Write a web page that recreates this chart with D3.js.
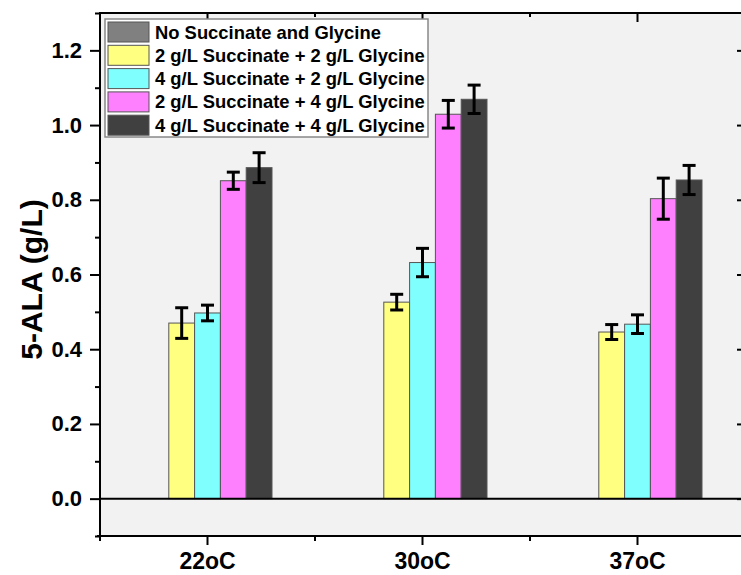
<!DOCTYPE html>
<html>
<head>
<meta charset="utf-8">
<script src="https://cdn.jsdelivr.net/npm/d3@7"></script>
<style>
  html, body { margin: 0; padding: 0; background: #ffffff; }
  svg { display: block; font-family: "Liberation Sans", Arial, sans-serif; }
</style>
</head>
<body>
<svg id="chart" width="741" height="575"></svg>
<script>
// Temperatures along the x axis
const categories = ["22oC", "30oC", "37oC"];

// Treatment series (legend order)
const seriesNames = [
  "No Succinate and Glycine",
  "2 g/L Succinate + 2 g/L Glycine",
  "4 g/L Succinate + 2 g/L Glycine",
  "2 g/L Succinate + 4 g/L Glycine",
  "4 g/L Succinate + 4 g/L Glycine"
];
const seriesColors = ["#808080", "#ffff80", "#80ffff", "#ff80ff", "#404040"];

// 5-ALA concentration (g/L) per temperature, and standard deviations
const noSuccGly   = [0, 0, 0];
const succ2Gly2   = [0.470, 0.526, 0.446];
const succ4Gly2   = [0.497, 0.632, 0.467];
const succ2Gly4   = [0.851, 1.029, 0.803];
const succ4Gly4   = [0.886, 1.069, 0.853];

const errNoSuccGly = [null, null, null];
const errSucc2Gly2 = [0.041, 0.021, 0.020];
const errSucc4Gly2 = [0.021, 0.038, 0.025];
const errSucc2Gly4 = [0.023, 0.037, 0.055];
const errSucc4Gly4 = [0.040, 0.038, 0.039];

const yTicks = [0.0, 0.2, 0.4, 0.6, 0.8, 1.0, 1.2];
const yMinorTicks = [-0.1, 0.1, 0.3, 0.5, 0.7, 0.9, 1.1, 1.3];

const seriesValues = [noSuccGly, succ2Gly2, succ4Gly2, succ2Gly4, succ4Gly4];
const seriesErrors = [errNoSuccGly, errSucc2Gly2, errSucc4Gly2, errSucc2Gly4, errSucc4Gly4];

const rows = [];
seriesNames.forEach((name, si) => {
  categories.forEach((cat, ci) => {
    rows.push({ series: name, si, cat, value: seriesValues[si][ci], err: seriesErrors[si][ci] });
  });
});

const svg = d3.select("#chart");
const plotL = 100, plotR = 745, plotT = 13, plotB = 536;
const font = '"Liberation Sans", Arial, sans-serif';

const x = d3.scaleBand().domain(categories).range([plotL, plotR]).padding(0);
const xInner = d3.scaleBand().domain(seriesNames)
  .range([x.bandwidth() * 0.2, x.bandwidth() * 0.8]).padding(0);
const y = d3.scaleLinear().domain([-0.1, 1.3]).range([plotB, plotT]);

// plot background
svg.append("rect")
  .attr("x", plotL).attr("y", plotT)
  .attr("width", plotR - plotL).attr("height", plotB - plotT)
  .attr("fill", "#f2f2f2");

// bars
svg.append("g").selectAll("rect")
  .data(rows.filter(d => d.value > 0))
  .join("rect")
  .attr("x", d => x(d.cat) + xInner(d.series))
  .attr("width", xInner.bandwidth())
  .attr("y", d => y(d.value))
  .attr("height", d => y(0) - y(d.value))
  .attr("fill", d => seriesColors[d.si])
  .attr("stroke", "#555")
  .attr("stroke-width", 1);

// error bars
const eb = svg.append("g").attr("stroke", "#000").attr("fill", "none");
rows.filter(d => d.err != null).forEach(d => {
  const cx = x(d.cat) + xInner(d.series) + xInner.bandwidth() / 2;
  const y1 = y(d.value + d.err), y2 = y(d.value - d.err);
  eb.append("line").attr("x1", cx).attr("x2", cx).attr("y1", y1).attr("y2", y2)
    .attr("stroke-width", 3);
  [y1, y2].forEach(yy => eb.append("line")
    .attr("x1", cx - 6.5).attr("x2", cx + 6.5).attr("y1", yy).attr("y2", yy)
    .attr("stroke-width", 3));
});

// zero line
svg.append("line")
  .attr("x1", plotL).attr("x2", plotR)
  .attr("y1", y(0)).attr("y2", y(0))
  .attr("stroke", "#000").attr("stroke-width", 2);

// left axis
const yAxis = d3.axisLeft(y).tickValues(yTicks).tickFormat(d3.format(".1f"))
  .tickSize(10).tickPadding(8);
const gy = svg.append("g").attr("transform", `translate(${plotL},0)`).call(yAxis);
gy.select(".domain").attr("stroke-width", 2).attr("d", `M0,${plotT}V${plotB}`);
gy.selectAll(".tick line").attr("stroke-width", 2);
gy.selectAll(".tick text").attr("font-family", font).attr("font-size", 22)
  .attr("font-weight", "bold").attr("fill", "#000");
const gyMinor = svg.append("g").attr("transform", `translate(${plotL},0)`)
  .call(d3.axisLeft(y).tickValues(yMinorTicks).tickSize(5).tickFormat(""));
gyMinor.select(".domain").remove();
gyMinor.selectAll(".tick line").attr("stroke-width", 2);

// right axis (mirror, inward ticks)
const gr = svg.append("g").attr("transform", `translate(${plotR},0)`)
  .call(d3.axisLeft(y).tickValues(yTicks).tickSize(0).tickFormat(""));
gr.selectAll(".tick line").attr("x2", -8).attr("stroke-width", 2);
gr.select(".domain").attr("stroke-width", 2).attr("d", `M0,${plotT}V${plotB}`);
const grMinor = svg.append("g").attr("transform", `translate(${plotR},0)`)
  .call(d3.axisLeft(y).tickValues(yMinorTicks).tickSize(0).tickFormat(""));
grMinor.select(".domain").remove();
grMinor.selectAll(".tick line").attr("x2", -4).attr("stroke-width", 2);

// bottom axis
const xAxis = d3.axisBottom(x).tickSize(9).tickPadding(8);
const gx = svg.append("g").attr("transform", `translate(0,${plotB})`).call(xAxis);
gx.select(".domain").attr("stroke-width", 2).attr("d", `M${plotL - 3},0H${plotR}`);
gx.selectAll(".tick line").attr("stroke-width", 2);
gx.selectAll(".tick text").attr("font-family", font).attr("font-size", 23)
  .attr("font-weight", "bold").attr("fill", "#000");
const xMinor = categories.map(c => x(c)).concat([plotR]);
const gxm = svg.append("g");
xMinor.forEach(px => gxm.append("line")
  .attr("x1", px).attr("x2", px).attr("y1", plotB).attr("y2", plotB + 5)
  .attr("stroke", "#000").attr("stroke-width", 2));

// top axis (mirror, inward ticks)
svg.append("line").attr("x1", plotL - 1).attr("x2", plotR)
  .attr("y1", plotT).attr("y2", plotT).attr("stroke", "#000").attr("stroke-width", 2);
const gt = svg.append("g");
categories.forEach(c => gt.append("line")
  .attr("x1", x(c) + x.bandwidth() / 2).attr("x2", x(c) + x.bandwidth() / 2)
  .attr("y1", plotT).attr("y2", plotT + 9).attr("stroke", "#000").attr("stroke-width", 2));
xMinor.forEach(px => gt.append("line")
  .attr("x1", px).attr("x2", px).attr("y1", plotT).attr("y2", plotT + 4)
  .attr("stroke", "#000").attr("stroke-width", 2));

// y axis title
svg.append("text")
  .attr("transform", `translate(42,${(plotT + plotB) / 2 + 5}) rotate(-90)`)
  .attr("text-anchor", "middle")
  .attr("font-family", font).attr("font-size", 30).attr("font-weight", "bold")
  .text("5-ALA (g/L)");

// legend
const lg = svg.append("g").attr("transform", "translate(105,19)");
lg.append("rect").attr("x", 0).attr("y", 0).attr("width", 323).attr("height", 118)
  .attr("fill", "#fff").attr("stroke", "#888").attr("stroke-width", 1.5);
seriesNames.forEach((name, i) => {
  const cy = 13 + i * 23.3;
  lg.append("rect").attr("x", 3).attr("y", cy - 10).attr("width", 41).attr("height", 20)
    .attr("fill", seriesColors[i]).attr("stroke", "#555").attr("stroke-width", 1);
  lg.append("text").attr("x", 50).attr("y", cy + 6.5)
    .attr("font-family", font).attr("font-size", 18.4).attr("font-weight", "bold")
    .text(name);
});
</script>
</body>
</html>
